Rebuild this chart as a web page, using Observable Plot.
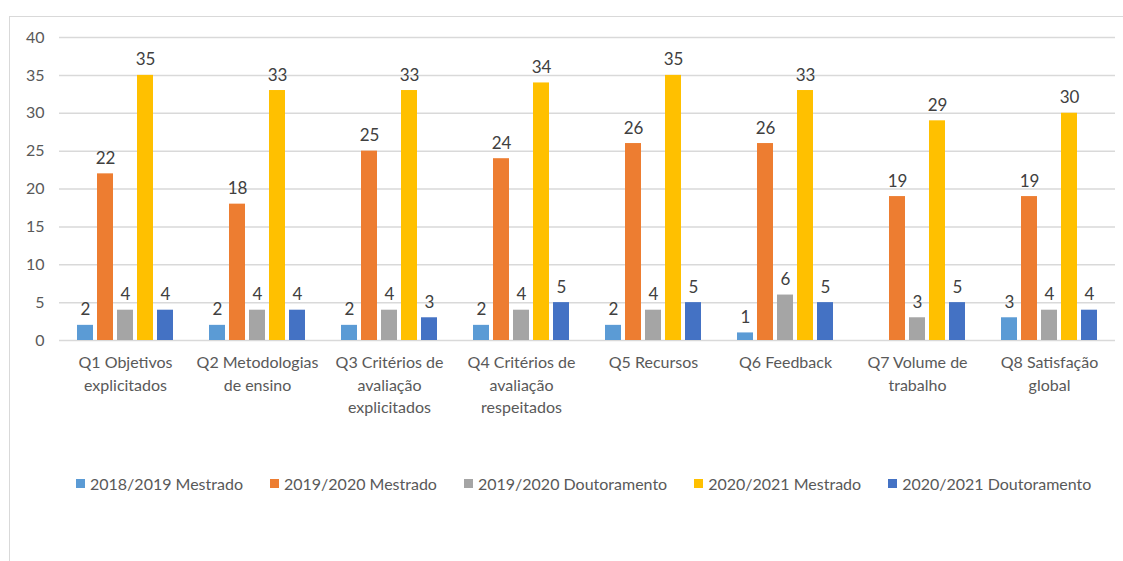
<!DOCTYPE html>
<html><head><meta charset="utf-8">
<script src="https://cdn.jsdelivr.net/npm/d3@7"></script>
<script src="https://cdn.jsdelivr.net/npm/@observablehq/plot@0.6"></script>
<style>
body{margin:0;background:#fff;font-family:Lato,"Open Sans",sans-serif;}
#wrap{position:relative;width:1123px;height:561px;overflow:hidden;background:#fff;}
#frame{position:absolute;left:9px;top:16px;width:1300px;height:700px;border:1.5px solid #d9d9d9;box-sizing:border-box;}
#chart{position:absolute;left:0;top:0;}
#legend{position:absolute;top:474px;left:76px;display:flex;gap:27px;font-size:16px;color:#595959;white-space:nowrap;}
.item{display:flex;align-items:center;gap:5px;}
.sw{width:9px;height:9px;display:inline-block;}
</style>
</head><body>
<div id="wrap"><div id="frame"></div><div id="chart"></div><div id="legend"></div></div>
<script>
const questions = [
  "Q1 Objetivos\nexplicitados",
  "Q2 Metodologias\nde ensino",
  "Q3 Critérios de\navaliação\nexplicitados",
  "Q4 Critérios de\navaliação\nrespeitados",
  "Q5 Recursos",
  "Q6 Feedback",
  "Q7 Volume de\ntrabalho",
  "Q8 Satisfação\nglobal"
];
const series = ["2018/2019 Mestrado","2019/2020 Mestrado","2019/2020 Doutoramento","2020/2021 Mestrado","2020/2021 Doutoramento"];
const colors = ["#5B9BD5","#ED7D31","#A5A5A5","#FFC000","#4472C4"];
const m1819 = [2,2,2,2,2,1,null,3];
const m1920 = [22,18,25,24,26,26,19,19];
const d1920 = [4,4,4,4,4,6,3,4];
const m2021 = [35,33,33,34,35,33,29,30];
const d2021 = [4,4,3,5,5,5,5,4];
const yTicks = [0,5,10,15,20,25,30,35,40];

const values = [m1819,m1920,d1920,m2021,d2021];
const data = [];
questions.forEach((q,i)=>{
  series.forEach((s,j)=>{
    data.push({q, s, v: values[j][i]});
  });
});
const shown = data.filter(d=>d.v!=null);

const chart = Plot.plot({
  width: 1123,
  height: 440,
  marginLeft: 57,
  marginRight: 7,
  marginTop: 37,
  marginBottom: 100,
  style: {fontFamily: "Lato, 'Open Sans', sans-serif", fontSize: "16px", color: "#595959", background: "transparent"},
  fx: {domain: questions, padding: 0, label: null, axis: null},
  x: {domain: series, paddingInner: 0.21, paddingOuter: 0.8, axis: null},
  y: {domain: [0,40], ticks: yTicks, label: null, axis: null},
  color: {domain: series, range: colors},
  marks: [
    Plot.gridY(yTicks, {stroke:"#d9d9d9", strokeOpacity:1, strokeWidth:1.5}),
    Plot.axisY(yTicks, {tickSize:0, tickPadding:15, fontSize:16, fill:"#595959", label:null}),
    Plot.axisFx({anchor:"bottom", tickSize:0, tickPadding:12, fontSize:16, fill:"#595959", lineHeight:1.4, label:null}),
    Plot.barY(shown, {fx:"q", x:"s", y:"v", fill:"s"}),
    Plot.text(shown, {fx:"q", x:"s", y:"v", text:"v", dy:-10, lineAnchor:"bottom", fontSize:17, fill:"#404040"})
  ]
});
document.getElementById("chart").appendChild(chart);

const legend = document.getElementById("legend");
series.forEach((s,j)=>{
  const it = document.createElement("div");
  it.className = "item";
  it.innerHTML = `<span class="sw" style="background:${colors[j]}"></span><span>${s}</span>`;
  legend.appendChild(it);
});
</script>
</body></html>
